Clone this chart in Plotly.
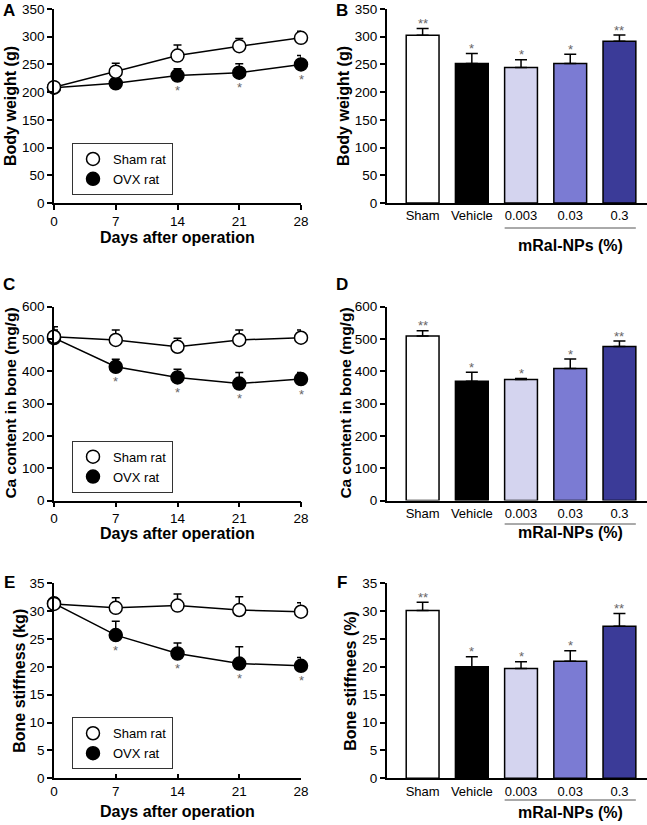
import plotly.graph_objects as go

# ---------------- data ----------------
days = [0, 7, 14, 21, 28]
groups = ["Sham", "Vehicle", "0.003", "0.03", "0.3"]
bar_colors = ["#ffffff", "#000000", "#d4d4ef", "#7b7bd3", "#3b3b98"]

bw_sham = [209, 237, 266, 283, 298]
bw_sham_err = [5, 15, 19, 14, 12]
bw_ovx = [208, 216, 230, 235, 250]
bw_ovx_err = [5, 6, 12, 16, 16]
bw_ovx_sig = ["", "", "*", "*", "*"]

ca_sham = [507, 497, 476, 497, 504]
ca_sham_err = [31, 31, 26, 31, 24]
ca_ovx = [503, 414, 381, 362, 376]
ca_ovx_err = [25, 23, 25, 34, 20]
ca_ovx_sig = ["", "*", "*", "*", "*"]

st_sham = [31.3, 30.6, 31.0, 30.2, 29.9]
st_sham_err = [1.0, 1.8, 2.1, 2.4, 1.6]
st_ovx = [31.4, 25.7, 22.4, 20.6, 20.2]
st_ovx_err = [1.0, 2.5, 1.9, 3.0, 1.5]
st_ovx_sig = ["", "*", "*", "*", "*"]

bw_bar = [302.5, 251.5, 244.5, 251.5, 292]
bw_bar_err = [12.5, 18, 14, 17, 11]
ca_bar = [509, 369, 375, 409, 477]
ca_bar_err = [16.5, 28, 3, 29, 16.5]
st_bar = [30.1, 20.0, 19.7, 21.0, 27.3]
st_bar_err = [1.5, 1.8, 1.2, 1.9, 2.3]
bar_sig = ["**", "*", "*", "*", "**"]

# ---------------- layout helpers ----------------
W, H = 647, 825
FONT = "Liberation Sans, Arial, sans-serif"


def xd(a, b):
    return [a / W, min(b / W, 1.0)]


def yd(top, bottom):
    return [1 - bottom / H, 1 - top / H]


LEFT = xd(54, 301)
RIGHT = xd(386.7, 647)
ROWS = [yd(9, 203), yd(306.7, 500.5), yd(583.3, 778.3)]

fig = go.Figure()
annotations = []
shapes = []

# (axis no, ..., y title, legend id, x tick direction, y-title x px, x-title y px)
line_panels = [
    (1, bw_sham, bw_sham_err, bw_ovx, bw_ovx_err, bw_ovx_sig, [0, 350], 50, "Body weight (g)", 16, "legend", "outside", 11, 237),
    (3, ca_sham, ca_sham_err, ca_ovx, ca_ovx_err, ca_ovx_sig, [0, 600], 100, "Ca content in bone (mg/g)", 15.5, "legend2", "outside", 11, 533),
    (5, st_sham, st_sham_err, st_ovx, st_ovx_err, st_ovx_sig, [0, 35], 5, "Bone stiffness (kg)", 16, "legend3", "inside", 20, 811),
]
# (axis no, ..., y title, y-title x px, underline y px, x-title y px)
bar_panels = [
    (2, bw_bar, bw_bar_err, [0, 350], 50, "Body weight (g)", 16, 344, 228, 245),
    (4, ca_bar, ca_bar_err, [0, 600], 100, "Ca content in bone (mg/g)", 15.5, 346, 524, 532),
    (6, st_bar, st_bar_err, [0, 35], 5, "Bone stiffnees (%)", 16, 351, 800, 812),
]

axis_common = dict(
    showline=True, linecolor="black", linewidth=1.5, showgrid=False, zeroline=False,
    tickcolor="black", ticklen=5, tickwidth=1.5, automargin=False,
    tickfont=dict(family=FONT, size=13.5, color="black"),
)

STAR_FONT = dict(family=FONT, size=13, color="#666666")


def tfont(size):
    return dict(family=FONT, size=size, color="black", weight="bold")


def paper_text(px, py, text, font, angle=0):
    return dict(x=px / W, y=1 - py / H, xref="paper", yref="paper", text=text,
                textangle=angle, showarrow=False, xanchor="center", yanchor="middle", font=font)


for row, (n, s, se, o, oe, sig, yr, dt, ytitle, ysz, leg, xticks, ytx, xty) in enumerate(line_panels):
    xa, ya = f"x{n}", f"y{n}"
    # OVX first so Sham sits on top
    fig.add_trace(go.Scatter(
        x=days, y=o, mode="lines+markers", xaxis=xa, yaxis=ya, showlegend=False,
        line=dict(color="black", width=1.5), cliponaxis=False,
        marker=dict(size=13, color="black", line=dict(color="black", width=1.5)),
        error_y=dict(type="data", array=oe, arrayminus=[0] * len(oe), symmetric=False,
                     color="black", thickness=1.5, width=4),
    ))
    fig.add_trace(go.Scatter(
        x=days, y=s, mode="lines+markers", xaxis=xa, yaxis=ya, showlegend=False,
        line=dict(color="black", width=1.5), cliponaxis=False,
        marker=dict(size=13, color="white", line=dict(color="black", width=1.5)),
        error_y=dict(type="data", array=se, arrayminus=[0] * len(se), symmetric=False,
                     color="black", thickness=1.5, width=4),
    ))
    # legend-only entries
    fig.add_trace(go.Scatter(x=[None], y=[None], mode="markers", name="Sham rat", legend=leg,
                             xaxis=xa, yaxis=ya,
                             marker=dict(size=13, color="white", line=dict(color="black", width=1.5))))
    fig.add_trace(go.Scatter(x=[None], y=[None], mode="markers", name="OVX rat", legend=leg,
                             xaxis=xa, yaxis=ya,
                             marker=dict(size=13, color="black", line=dict(color="black", width=1.5))))
    for d, v, t in zip(days, o, sig):
        if t:
            annotations.append(dict(x=d, y=v, xref=xa, yref=ya, text=t, showarrow=False,
                                    yshift=-15, xanchor="center", yanchor="middle", font=STAR_FONT))
    key = "" if n == 1 else str(n)
    fig.layout[f"xaxis{key}"] = dict(
        axis_common, domain=LEFT, anchor=ya, range=[0, 28], tickvals=days, ticks=xticks,
    )
    fig.layout[f"yaxis{key}"] = dict(
        axis_common, domain=ROWS[row], anchor=xa, range=yr, dtick=dt, ticks="outside",
    )
    top_px = (1 - ROWS[row][1]) * H
    bot_px = (1 - ROWS[row][0]) * H
    annotations.append(paper_text(ytx, (top_px + bot_px) / 2, ytitle, tfont(ysz), -90))
    annotations.append(paper_text(177.5, xty, "Days after operation", tfont(16)))
    fig.layout[leg] = dict(
        x=72 / W, y=1 - (top_px + 134) / H, xanchor="left", yanchor="top",
        bordercolor="#333333", borderwidth=1, bgcolor="white", itemwidth=30,
        font=dict(family=FONT, size=13, color="black"), tracegroupgap=0,
    )

for row, (n, vals, errs, yr, dt, ytitle, ysz, ytx, uly, xty) in enumerate(bar_panels):
    xa, ya = f"x{n}", f"y{n}"
    fig.add_trace(go.Bar(
        x=groups, y=vals, xaxis=xa, yaxis=ya, showlegend=False, width=0.667,
        marker=dict(color=bar_colors, line=dict(color="black", width=1.5)),
        error_y=dict(type="data", array=errs, arrayminus=[0] * len(errs), symmetric=False,
                     color="black", thickness=1.5, width=6),
    ))
    for i, (v, e, t) in enumerate(zip(vals, errs, bar_sig)):
        annotations.append(dict(x=i, y=v + e, xref=xa, yref=ya, text=t, showarrow=False,
                                yshift=5, xanchor="center", yanchor="middle", font=STAR_FONT))
    fig.layout[f"xaxis{n}"] = dict(
        axis_common, domain=RIGHT, anchor=ya, range=[-0.73, 4.56], ticks="",
        tickfont=dict(family=FONT, size=13, color="black"), type="category",
    )
    fig.layout[f"yaxis{n}"] = dict(
        axis_common, domain=ROWS[row], anchor=xa, range=yr, dtick=dt, ticks="outside",
    )
    top_px = (1 - ROWS[row][1]) * H
    bot_px = (1 - ROWS[row][0]) * H
    annotations.append(paper_text(ytx, (top_px + bot_px) / 2, ytitle, tfont(ysz), -90))
    annotations.append(paper_text(570, xty, "mRal-NPs (%)", tfont(16)))
    shapes.append(dict(type="line", xref=xa, yref="paper", x0=2 - 0.333, x1=4 + 0.333,
                       y0=1 - uly / H, y1=1 - uly / H,
                       line=dict(color="#555555", width=1)))

# panel letters
LETTER_FONT = tfont(17)
for letter, px, py in [("A", 9, 11), ("B", 342, 11), ("C", 9, 284), ("D", 342, 284), ("E", 9, 582.5), ("F", 342, 582)]:
    annotations.append(paper_text(px, py, letter, LETTER_FONT))

fig.update_layout(
    width=W, height=H, margin=dict(l=0, r=0, t=0, b=0, autoexpand=False),
    paper_bgcolor="white", plot_bgcolor="white",
    annotations=annotations, shapes=shapes,
    font=dict(family=FONT, color="black"),
)

fig.write_html(
    "out.html",
    config={"displayModeBar": False},
    post_script="document.body.style.margin='0';document.body.style.overflow='hidden';",
)
